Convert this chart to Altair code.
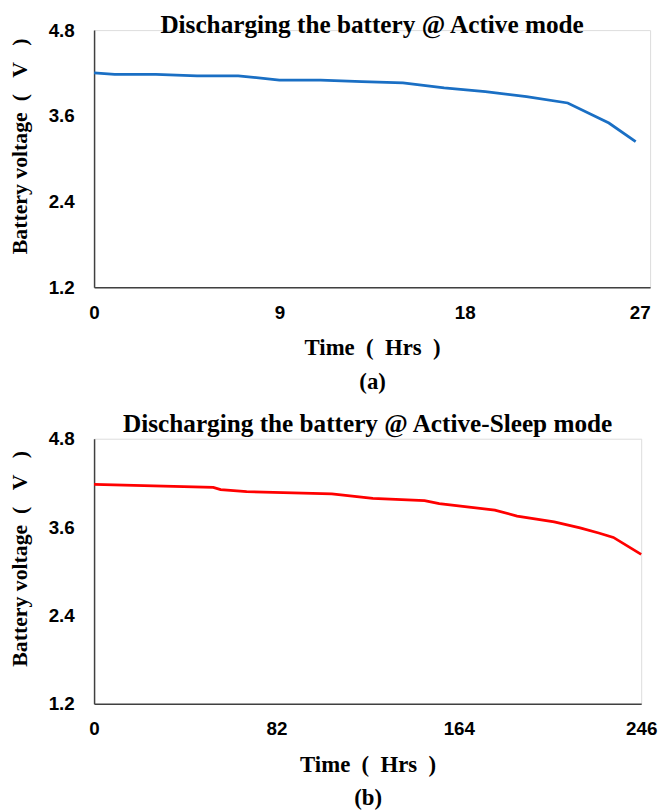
import altair as alt
import pandas as pd

# Panel (a): Active mode
hours_a = [0, 1, 3, 5, 7, 9, 11, 13, 15, 17, 19, 21, 23, 25, 26.3]
volt_a = [4.20, 4.18, 4.18, 4.16, 4.16, 4.10, 4.10, 4.08, 4.06, 3.99, 3.94, 3.87, 3.78, 3.50, 3.24]
ticks_a = [0, 9, 18, 27]

# Panel (b): Active-Sleep mode
hours_b = [0, 53.6, 56.9, 68.6, 106.9, 125.3, 148.6, 155.2, 180.2, 190.2, 206.9, 218.5, 226.9, 233.5, 246]
volt_b = [4.18, 4.14, 4.11, 4.08, 4.05, 3.99, 3.96, 3.92, 3.83, 3.75, 3.67, 3.59, 3.52, 3.46, 3.23]
ticks_b = [0, 82, 164, 246]

y_ticks = [1.2, 2.4, 3.6, 4.8]

SERIF = "Liberation Serif"
SANS = "Liberation Sans"
NB = "\u00a0"

df_a = pd.DataFrame({"hrs": hours_a, "v": volt_a})
df_b = pd.DataFrame({"hrs": hours_b, "v": volt_b})


def panel(df, ticks, color, title, sub, w, h, toff):
    x = alt.X(
        "hrs:Q",
        scale=alt.Scale(domain=[ticks[0], ticks[-1]], nice=False, zero=False),
        axis=alt.Axis(
            values=ticks,
            title=["Time" + NB * 2 + "(" + NB * 2 + "Hrs" + NB * 2 + ")", sub],
            grid=False, ticks=False,
            labelFlush=False, labelOverlap=False, labelPadding=16,
            labelAlign={"condition": {"test": f"datum.value == {ticks[-1]} && {ticks[-1]} == 27",
                                      "value": "right"}, "value": "center"},
            labelFont=SANS, labelFontSize=19, labelFontWeight="bold", labelColor="#000",
            titleFont=SERIF, titleFontSize=23, titleFontWeight="bold", titleColor="#000",
            titlePadding=15, titleLineHeight=34,
            domainColor="#404040", domainWidth=1.5,
        ),
    )
    y = alt.Y(
        "v:Q",
        scale=alt.Scale(domain=[1.2, 4.8], nice=False, zero=False),
        axis=alt.Axis(
            values=y_ticks, format=".1f",
            title="Battery voltage" + NB * 2 + "(" + NB * 3 + "V" + NB * 3 + ")",
            grid=False, ticks=False,
            labelFlush=False, labelOverlap=False, labelPadding=20,
            labelFont=SANS, labelFontSize=19, labelFontWeight="bold", labelColor="#000",
            titleFont=SERIF, titleFontSize=22, titleFontWeight="bold", titleColor="#000",
            titlePadding=17, titleY=h / 2 - 13,
            domainColor="#404040", domainWidth=1.5,
        ),
    )
    return alt.Chart(df).mark_line(color=color, strokeWidth=2.8).encode(x=x, y=y).properties(
        width=w, height=h,
        title=alt.TitleParams(title, font=SERIF, fontSize=25.5, fontWeight="bold",
                              color="#000", anchor="middle", frame="group", offset=toff),
    )


top = panel(df_a, ticks_a, "#1a6fc4", "Discharging the battery @ Active mode", "(a)", 562, 260, -17)
bottom = panel(df_b, ticks_b, "#ff0000", "Discharging the battery @ Active-Sleep mode", "(b)", 553, 268, -8)

chart = alt.vconcat(top, bottom, spacing=18).properties(
    padding={"left": 0, "top": 0, "right": 0, "bottom": 0}
).configure_view(stroke=None).configure(background="white")

chart.save("out.html", embed_options={"renderer": "svg", "actions": False})
